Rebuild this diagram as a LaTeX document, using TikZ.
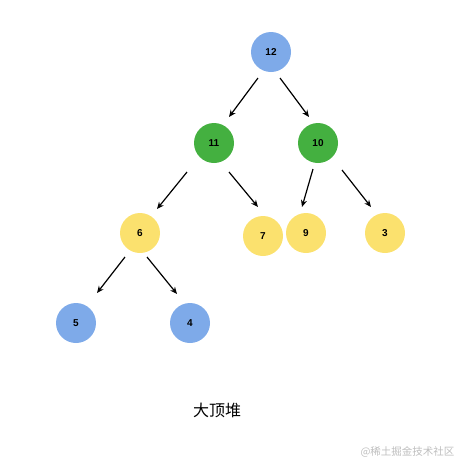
\documentclass[tikz,border=0pt]{standalone}
\usepackage{fontspec}
\setmainfont{Liberation Sans}
\newfontfamily\cjk{Noto Sans CJK SC}
\usetikzlibrary{arrows.meta,calc}
\definecolor{hblue}{RGB}{126,170,233}
\definecolor{hgreen}{RGB}{68,176,64}
\definecolor{hyellow}{RGB}{251,225,110}
\definecolor{wmgray}{RGB}{190,190,190}
\tikzset{
  hnode/.style={circle,minimum size=40pt,inner sep=0pt,font=\fontsize{10}{11}\selectfont\bfseries},
  bluen/.style={hnode,fill=hblue},
  greenn/.style={hnode,fill=hgreen},
  yellown/.style={hnode,fill=hyellow},
  arr/.style={-{Stealth[length=7pt,width=6pt]},line width=1.2pt,black}
}
\begin{document}
\begin{tikzpicture}[x=1pt,y=-1pt]
\useasboundingbox (0,0) rectangle (462,469);
\node[bluen] (n12) at (271,52) {12};
\node[greenn] (n11) at (214,143) {11};
\node[greenn] (n10) at (318,143) {10};
\node[yellown] (n6) at (140,233) {6};
\node[yellown] (n7) at (263,236) {7};
\node[yellown] (n9) at (306,233) {9};
\node[yellown] (n3) at (385,233) {3};
\node[bluen] (n5) at (76,323) {5};
\node[bluen] (n4) at (190,323) {4};
\draw[arr] ($(n12)+(-13,26)$) -- ($(n11)+(15,-26)$);
\draw[arr] ($(n12)+(9,26)$) -- ($(n10)+(-9,-26)$);
\draw[arr] ($(n11)+(-27,29)$) -- ($(n6)+(17,-24)$);
\draw[arr] ($(n11)+(15,29)$) -- ($(n7)+(-5,-29)$);
\draw[arr] ($(n10)+(-5,26)$) -- ($(n9)+(-4,-26)$);
\draw[arr] ($(n10)+(24,27)$) -- ($(n3)+(-14,-26)$);
\draw[arr] ($(n6)+(-15,24)$) -- ($(n5)+(21,-30)$);
\draw[arr] ($(n6)+(7,24)$) -- ($(n4)+(-13,-29)$);
\node[font=\cjk\fontsize{16}{18}\selectfont] (title) at (217,410) {大顶堆};
\node[font=\cjk\fontsize{10.5}{12}\selectfont,text=wmgray,anchor=east] (wm) at (458,452) {@稀土掘金技术社区};
\end{tikzpicture}
\end{document}
